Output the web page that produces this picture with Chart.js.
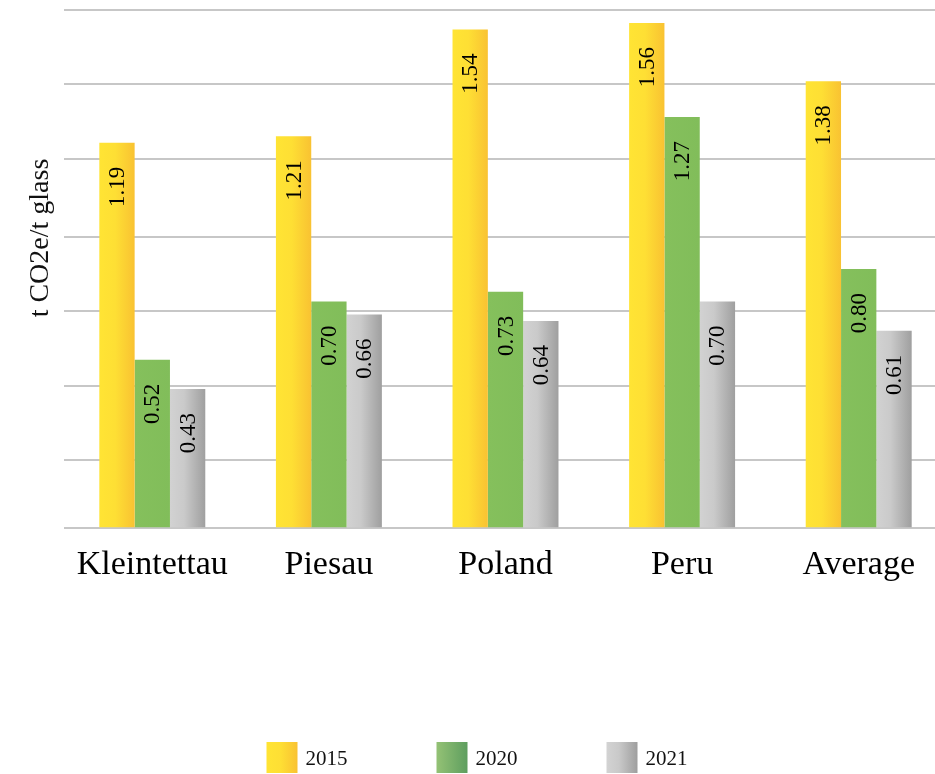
<!DOCTYPE html>
<html>
<head>
<meta charset="utf-8">
<script src="https://cdn.jsdelivr.net/npm/chart.js@4.4.0/dist/chart.umd.min.js"></script>
<style>
  html, body { margin: 0; padding: 0; background: #fff; overflow: hidden; }
  #wrap { width: 947px; height: 774px; }
</style>
</head>
<body>
<div id="wrap"><canvas id="co2Chart"></canvas></div>
<script>
const sites = ["Kleintettau", "Piesau", "Poland", "Peru", "Average"];
const years = ["2015", "2020", "2021"];
const values2015 = [1.19, 1.21, 1.54, 1.56, 1.38];
const values2020 = [0.52, 0.70, 0.73, 1.27, 0.80];
const values2021 = [0.43, 0.66, 0.64, 0.70, 0.61];
const gridValues = [0, 0.21, 0.44, 0.67, 0.90, 1.14, 1.37, 1.60];
const yTitle = "t CO2e/t glass";

const serif = "'Liberation Serif', 'Times New Roman', serif";

// horizontal gradient stops per series (bars / legend swatch)
const barStops = [
  [[0, "#ffe434"], [0.45, "#fedf34"], [1, "#f9c232"]],
  [[0, "#85c05c"], [1, "#81bd5a"]],
  [[0, "#d2d2d2"], [0.4, "#cacaca"], [1, "#9f9f9f"]]
];
const legendStops = [
  [[0, "#ffe434"], [0.45, "#fedf34"], [1, "#f9c232"]],
  [[0, "#94c275"], [1, "#5e9e5f"]],
  [[0, "#d3d3d3"], [0.4, "#c9c9c9"], [1, "#9e9e9e"]]
];

function gradient(ctx, x0, x1, stops) {
  const g = ctx.createLinearGradient(x0, 0, x1, 0);
  stops.forEach(s => g.addColorStop(s[0], s[1]));
  return g;
}

const barLook = {
  id: "barLook",
  beforeDatasetsDraw(chart) {
    const ctx = chart.ctx;
    chart.data.datasets.forEach((ds, i) => {
      chart.getDatasetMeta(i).data.forEach(bar => {
        bar.options.backgroundColor = gradient(ctx, bar.x - bar.width / 2, bar.x + bar.width / 2, barStops[i]);
      });
    });
  },
  afterDatasetsDraw(chart) {
    const ctx = chart.ctx;
    ctx.save();
    ctx.font = "23px " + serif;
    ctx.fillStyle = "#000";
    ctx.textAlign = "right";
    ctx.textBaseline = "middle";
    chart.data.datasets.forEach((ds, i) => {
      chart.getDatasetMeta(i).data.forEach((bar, j) => {
        ctx.save();
        ctx.translate(bar.x, bar.y + 24);
        ctx.rotate(-Math.PI / 2);
        ctx.fillText(ds.data[j].toFixed(2), 0, 1);
        ctx.restore();
      });
    });
    ctx.restore();
  },
  afterDraw(chart) {
    const ctx = chart.ctx;
    ctx.save();
    // y axis title, a bit above the middle of the plot like the original
    ctx.font = "28px " + serif;
    ctx.fillStyle = "#111";
    ctx.textAlign = "center";
    ctx.textBaseline = "middle";
    ctx.translate(41, 238);
    ctx.rotate(-Math.PI / 2);
    ctx.fillText(yTitle, 0, 0);
    ctx.restore();

    // legend row at the bottom
    const cx = chart.width / 2 - 6;
    ctx.save();
    ctx.font = "21px " + serif;
    ctx.textBaseline = "middle";
    chart.data.datasets.forEach((ds, i) => {
      const bx = cx - 31 + (i - 1) * 170;
      ctx.fillStyle = gradient(ctx, bx, bx + 31, legendStops[i]);
      ctx.fillRect(bx, 742, 31, 31);
      ctx.fillStyle = "#111";
      ctx.fillText(ds.label, bx + 39, 759);
    });
    ctx.restore();
  }
};

new Chart(document.getElementById("co2Chart"), {
  type: "bar",
  data: {
    labels: sites,
    datasets: [
      { label: years[0], data: values2015, backgroundColor: () => "#fee033" },
      { label: years[1], data: values2020, backgroundColor: () => "#84bf5b" },
      { label: years[2], data: values2021, backgroundColor: () => "#bdbdbd" }
    ]
  },
  options: {
    responsive: true,
    maintainAspectRatio: false,
    animation: false,
    categoryPercentage: 0.6,
    barPercentage: 1.0,
    layout: { padding: { top: 10, left: 64, right: 0, bottom: 181 } },
    plugins: {
      legend: { display: false },
      tooltip: { enabled: false }
    },
    scales: {
      x: {
        grid: { display: false },
        border: { display: false },
        ticks: { color: "#000", padding: 8, font: { family: serif, size: 34 } }
      },
      y: {
        min: 0,
        max: 1.6,
        z: 1,
        afterBuildTicks: scale => { scale.ticks = gridValues.map(v => ({ value: v })); },
        grid: { color: "rgba(0,0,0,0.22)", lineWidth: 2, drawTicks: false },
        border: { display: false },
        ticks: { display: false }
      }
    }
  },
  plugins: [barLook]
});
</script>
</body>
</html>
